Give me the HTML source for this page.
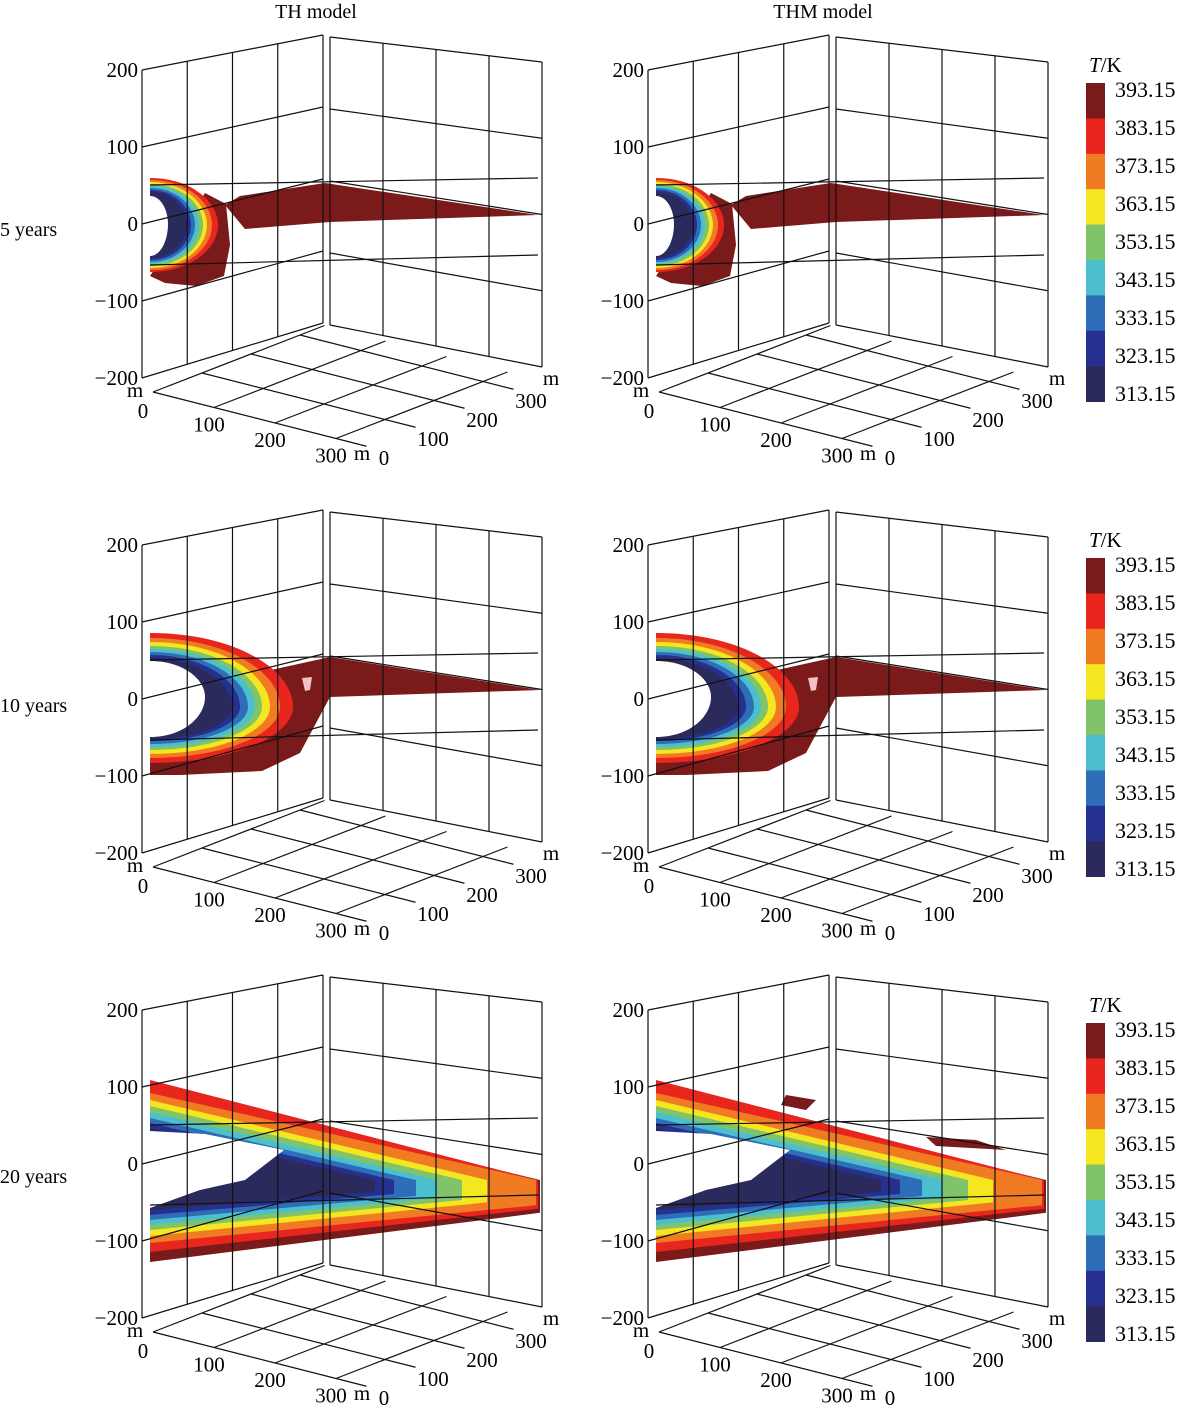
<!DOCTYPE html>
<html><head><meta charset="utf-8">
<style>
html,body{margin:0;padding:0;background:#fff;}
svg{display:block;font-family:"Liberation Serif",serif;}
</style></head>
<body>
<svg id="fig" width="1178" height="1411" viewBox="0 0 1178 1411" xmlns="http://www.w3.org/2000/svg">
<text x="316" y="18" font-size="20" text-anchor="middle">TH  model</text>
<text x="823" y="18" font-size="20" text-anchor="middle">THM  model</text>
<text x="0" y="236" font-size="20">5 years</text>
<text x="0" y="712" font-size="20">10 years</text>
<text x="0" y="1183" font-size="20">20 years</text>
</svg>
<script>
const NS="http://www.w3.org/2000/svg";
const svg=document.getElementById('fig');
const colorLevels=[393.15,383.15,373.15,363.15,353.15,343.15,333.15,323.15,313.15];
const colors=["#7a1a1a","#e8261e","#f07b22","#f4e61f","#80c36b","#4cbfcf","#2e6db7","#26308f","#2b2a5c"];
const zTicks=[200,100,0,-100,-200];
const floorTicks=[0,100,200,300];
const rowOffsets=[0,475,940];
const colOffsets=[0,506];
const bands5=[[190,276,226],[178,272,218],[180,270,212],[182,268,207],[184,266,203],[186,264,199],[188,262,195],[190,260,191],[192,258,187]];
const bands10=[[166,296,300],[158,288,293],[163,283,280],[167,279,270],[171,275,262],[174,272,255],[177,269,248],[180,266,240],[183,264,232]];
const bands20=[[146,322,540],[140,312,538],[153,303,536],[160,296,487],[166,290,462],[172,285,437],[178,280,416],[183,275,394],[188,270,375]];

function el(tag,attrs,parent){const e=document.createElementNS(NS,tag);for(const k in attrs)e.setAttribute(k,attrs[k]);(parent||svg).appendChild(e);return e;}
function line(g,x1,y1,x2,y2){const l=el('line',{x1,y1,x2,y2,stroke:'#111','stroke-width':1.2},g);

return l;}
function txt(g,x,y,s,anchor){const t=el('text',{x,y,'font-size':21,'text-anchor':anchor||'middle'},g);t.textContent=s;

return t;}
function lerp(a,b,t){return a+(b-a)*t;}
function chevron(g,b,vy,curved,color){
 const u=b[0],l=b[1],v=b[2];
 const cx=150+0.6*(v-150);
 const d=`M150,${u} C${cx},${u} ${v},${vy-(vy-u)*0.5} ${v},${vy} C${v},${vy+(l-vy)*0.5} ${cx},${l} 150,${l} Z`;
 const p=el('path',{d,fill:color},g);
 
 return p;}
function band20(g,b,color){
 const lr=240+(b[1]-240)*0.4;
 const p=el('polygon',{points:`150,${b[0]} ${b[2]},240 ${b[2]},${lr} 150,${b[1]}`,fill:color},g);
 
 return p;}
function poly(g,pts,color,name){const p=el('polygon',{points:pts,fill:color},g);
 
 return p;}

rowOffsets.forEach((oy,ri)=>{
 colOffsets.forEach((ox,ci)=>{
  const g=el('g',{transform:`translate(${ox},${oy})`});
  
  
  if(ri===0){
   poly(g,"205,193 226,204 230,245 224,276 196,286 165,283 150,276",colors[0],'dark-red-blob');
   poly(g,"225,205 240,196 325,183 538,215 330,222 245,229",colors[0],'fracture-plume');
   bands5.slice(1).forEach((b,i)=>chevron(g,b,225,true,colors[i+1]));
   chevron(g,[196,256,168],224,true,'#fff');
  } else if(ri===1){
   poly(g,"262,197 330,182 540,215 330,222 300,278 262,296 180,300 150,300 150,285",colors[0],'fracture-plume');
   bands10.slice(1).forEach((b,i)=>chevron(g,b,232,true,colors[i+1]));
   chevron(g,[186,262,205],222,true,'#fff');
   poly(g,"302,203 312,202 310,215 305,216","#f3c0c8",'pink-spot');
  } else {
   bands20.forEach((b,i)=>band20(g,b,colors[i]));
   poly(g,"150,191 205,194 284,210 245,240 200,250 150,268","#fff",'hole');
   if(ci===1){poly(g,"420,197 470,200 500,210 430,206","#7a1a1a",'dark-red-patch');
    poly(g,"280,155 310,160 300,170 275,165","#7a1a1a",'dark-red-patch');}
  }
  const LX=142,LT=70,LB=378,BX=323,BT=35,BB=323,BX2=330,BT2=37,BB2=325,RX=542,RT=62,RB=367;
  for(let i=0;i<5;i++){const t=i/4;
   line(g,lerp(LX,BX,t),lerp(LT,BT,t),lerp(LX,BX,t),lerp(LB,BB,t));
   line(g,lerp(BX2,RX,t),lerp(BT2,RT,t),lerp(BX2,RX,t),lerp(BB2,RB,t));}
  zTicks.forEach(z=>{const t=(200-z)/400;
   line(g,LX,lerp(LT,LB,t),BX,lerp(BT,BB,t));
   line(g,BX2,lerp(BT2,BB2,t),RX,lerp(RT,RB,t));
   txt(g,138,lerp(LT,LB,t)+7,(z<0?'\u2212':'')+Math.abs(z),'end');});
  line(g,150,185,538,178);line(g,150,265,538,255);
  const O=[153,392],ex=[61,15.5],ey=[49,-19];
  floorTicks.forEach(v=>{const s=v/100;
   line(g,O[0]+s*ex[0],O[1]+s*ex[1],O[0]+s*ex[0]+3.5*ey[0],O[1]+s*ex[1]+3.5*ey[1]);
   line(g,O[0]+s*ey[0],O[1]+s*ey[1],O[0]+s*ey[0]+3.5*ex[0],O[1]+s*ey[1]+3.5*ex[1]);
   txt(g,143+s*ex[0]+(v?5:0),418+s*ex[1]-(v?2:0),String(v));
   txt(g,384+s*ey[0],465+s*ey[1],String(v));});
  txt(g,135,397,'m');txt(g,362,460,'m');txt(g,551,385,'m');
 });
 const cg=el('g',{transform:`translate(0,${oy})`});
 
 
 const tk=el('text',{x:1089,y:72,'font-size':21},cg);
 
 
 tk.innerHTML='<tspan font-style="italic">T</tspan>/K';
 colorLevels.forEach((lv,i)=>{
  const r=el('rect',{x:1086,y:83+i*35.4,width:19,height:35.8,fill:colors[i]},cg);
  
  
  const t=el('text',{x:1115,y:97+i*38,'font-size':22},cg);t.textContent=lv.toFixed(2);
  
  
 });
});
</script>
</body></html>
